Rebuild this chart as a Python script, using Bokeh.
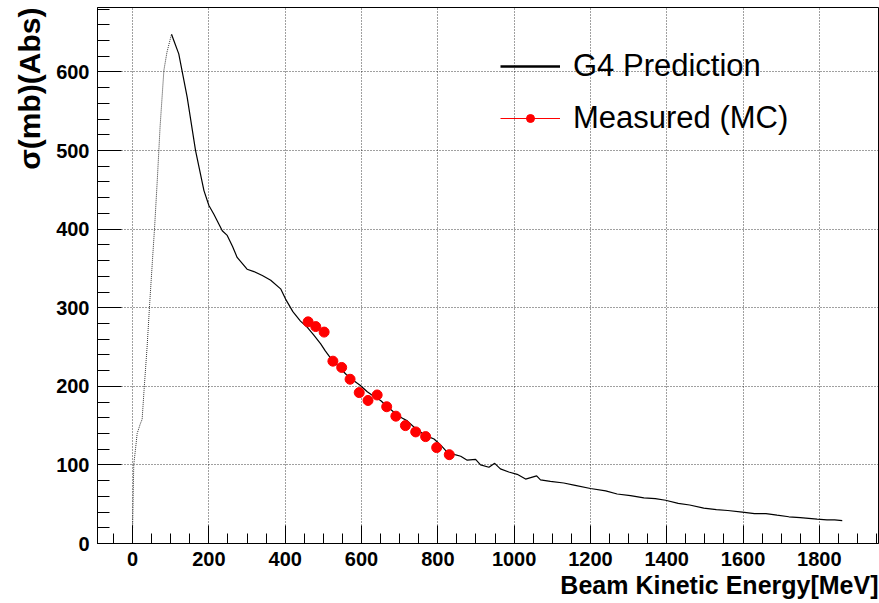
import numpy as np
from bokeh.plotting import figure
from bokeh.models import SingleIntervalTicker, Legend, LegendItem, Range1d, Title
from bokeh.embed import file_html
from bokeh.resources import INLINE

# ---- data ----
g4_energy = [0, 3, 8, 12, 20, 25, 30, 38, 45, 52, 58, 65, 72, 82, 90, 102,
             108, 121, 143, 165, 187, 200, 213, 235, 248, 262, 274, 300, 318, 340, 362, 388,
             401, 420, 440, 458, 475, 493, 505, 519, 540, 560, 580, 597, 615, 630, 650, 670,
             690, 705, 720, 740, 760, 775, 790, 810, 825, 845, 860, 877, 899, 912, 934, 949,
             964, 986, 1008, 1030, 1059, 1069, 1095, 1130, 1160, 1200, 1240, 1270, 1305, 1340,
             1370, 1397, 1430, 1460, 1497, 1530, 1560, 1598, 1630, 1660, 1689, 1720, 1750,
             1794, 1820, 1840, 1860]
g4_sigma = [20, 100, 122, 140, 152, 158, 195, 250, 307, 360, 405, 465, 530, 602, 625, 648,
            640, 623, 568, 500, 449, 430, 419, 398, 392, 378, 364, 349, 346, 341, 335, 324,
            311, 295, 283, 275, 265, 254, 245, 236, 225, 215, 207, 201, 193, 188, 182, 173,
            165, 160, 156, 147, 140, 136, 133, 124, 116, 113, 111, 106, 107, 100, 97, 102,
            95, 91, 88, 82, 86, 81, 79, 77, 74, 70, 67, 63, 61, 58,
            57, 55, 51, 49, 45, 43, 42, 40, 38, 38, 36, 34, 33,
            31, 30, 30, 29]
peak_index = 15  # index of the maximum of g4_sigma (rising part drawn faint/dotted)

meas_energy = [460, 480, 502, 525, 548, 570, 594, 617, 641, 666, 690, 715, 742, 768, 797, 830]
meas_sigma = [282, 276, 269, 232, 224, 209, 192, 182, 189, 174, 162, 150, 142, 136, 122, 113]

x_title = "Beam Kinetic Energy[MeV]"
y_title = "σ(mb)(Abs)"
legend_labels = ["G4 Prediction", "Measured (MC)"]

FONT = "Liberation Sans"

p = figure(width=879, height=603, output_backend="svg", toolbar_location=None,
           x_range=Range1d(-92, 1955), y_range=Range1d(0, 682),
           min_border_left=97, min_border_right=1, min_border_top=7, min_border_bottom=60)
p.background_fill_color = "white"
p.border_fill_color = "white"
p.outline_line_color = "black"
p.outline_line_width = 1
p.outline_line_alpha = 1

xt = SingleIntervalTicker(interval=200, num_minor_ticks=4)
yt = SingleIntervalTicker(interval=100, num_minor_ticks=5)
p.xaxis.ticker = xt
p.yaxis.ticker = yt
p.xgrid.ticker = xt
p.ygrid.ticker = yt

p.grid.grid_line_color = "black"
p.grid.grid_line_dash = "1 2"
p.grid.grid_line_alpha = 0.75
p.grid.grid_line_width = 1

for ax in (p.xaxis[0], p.yaxis[0]):
    ax.axis_line_color = "black"
    ax.major_tick_line_color = "black"
    ax.minor_tick_line_color = "black"
    ax.major_tick_out = 0
    ax.minor_tick_out = 0
    ax.major_label_text_font = FONT
    ax.major_label_text_font_style = "bold"
    ax.major_label_text_font_size = "20px"
    ax.major_label_text_color = "black"

p.xaxis.major_tick_in = 18
p.xaxis.minor_tick_in = 10
p.yaxis.major_tick_in = 24
p.yaxis.minor_tick_in = 12
p.xaxis.major_label_standoff = 8
p.yaxis.major_label_standoff = 8

# axis titles, aligned to the far ends of the axes as in the reference
p.add_layout(Title(text=x_title, align="right", text_font=FONT, text_font_style="bold",
                   text_font_size="25px", text_color="black", standoff=0), "below")
p.add_layout(Title(text=y_title, align="right", text_font=FONT, text_font_style="bold",
                   text_font_size="30px", text_color="black", standoff=16), "left")

rise_r = p.line(g4_energy[:peak_index + 1], g4_sigma[:peak_index + 1],
                line_color="black", line_width=1, line_dash="1 1", line_alpha=0.8)
g4_r = p.line(g4_energy[peak_index:], g4_sigma[peak_index:], line_color="black", line_width=1.2)
meas_r = p.scatter(meas_energy, meas_sigma, marker="circle", size=10,
                   fill_color="#ff0000", line_color="#ff0000")

# legend proxies (no visible data)
leg_black = p.line([np.nan], [np.nan], line_color="black", line_width=2.5)
leg_red = p.line([np.nan], [np.nan], line_color="#ff0000", line_width=1)

legend = Legend(items=[LegendItem(label=legend_labels[0], renderers=[leg_black]),
                       LegendItem(label=legend_labels[1], renderers=[leg_red, meas_r])],
                location=(403, 405), orientation="vertical",
                padding=0, margin=0, spacing=12,
                glyph_width=60, glyph_height=20, label_height=40, label_standoff=13,
                label_text_font=FONT, label_text_font_size="31px", label_text_color="black",
                background_fill_alpha=0, border_line_alpha=0)
p.add_layout(legend)

open("out.html", "w").write(file_html(p, INLINE))
